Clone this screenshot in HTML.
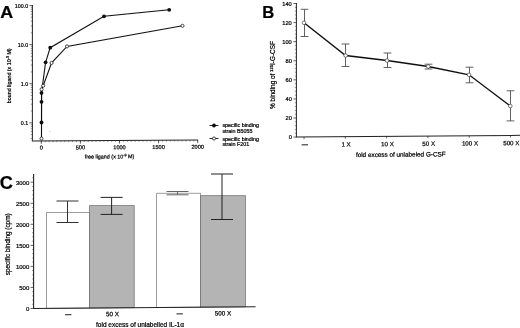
<!DOCTYPE html><html><head><meta charset="utf-8"><style>html,body{margin:0;padding:0;background:#fff;}svg{display:block;font-family:"Liberation Sans",sans-serif;}text{fill:#000;stroke:#000;stroke-width:0.22px;}</style></head><body>
<svg width="520" height="328" viewBox="0 0 520 328">
<defs><filter id="bl" x="-5%" y="-5%" width="110%" height="110%"><feGaussianBlur stdDeviation="0.35"/></filter></defs>
<rect width="520" height="328" fill="#fff"/>
<g filter="url(#bl)">
<text transform="translate(0.3,18.1) scale(1.05,1)" font-size="17" font-weight="bold" fill="#000" stroke="none">A</text>
<text transform="translate(262.3,18.1) scale(0.98,1)" font-size="17" font-weight="bold" fill="#000" stroke="none">B</text>
<text transform="translate(-0.3,189.4) scale(1.04,1)" font-size="17.5" font-weight="bold" fill="#000" stroke="none">C</text>
<line x1="32.4" y1="5" x2="32.4" y2="140.9" stroke="#222" stroke-width="1.0"/>
<line x1="29.4" y1="5.5" x2="32.4" y2="5.5" stroke="#222" stroke-width="0.7"/>
<text x="28.099999999999998" y="7.7" font-size="5.3" text-anchor="end" >100.0</text>
<line x1="30.799999999999997" y1="32.82972716953833" x2="32.4" y2="32.82972716953833" stroke="#222" stroke-width="0.5"/>
<line x1="30.799999999999997" y1="25.944558940461203" x2="32.4" y2="25.944558940461203" stroke="#222" stroke-width="0.5"/>
<line x1="30.799999999999997" y1="21.059454339076673" x2="32.4" y2="21.059454339076673" stroke="#222" stroke-width="0.5"/>
<line x1="30.799999999999997" y1="17.270272830461664" x2="32.4" y2="17.270272830461664" stroke="#222" stroke-width="0.5"/>
<line x1="30.799999999999997" y1="14.174286109999533" x2="32.4" y2="14.174286109999533" stroke="#222" stroke-width="0.5"/>
<line x1="30.799999999999997" y1="11.556666635442559" x2="32.4" y2="11.556666635442559" stroke="#222" stroke-width="0.5"/>
<line x1="30.799999999999997" y1="9.289181508615007" x2="32.4" y2="9.289181508615007" stroke="#222" stroke-width="0.5"/>
<line x1="30.799999999999997" y1="7.289117880922397" x2="32.4" y2="7.289117880922397" stroke="#222" stroke-width="0.5"/>
<line x1="29.4" y1="44.6" x2="32.4" y2="44.6" stroke="#222" stroke-width="0.7"/>
<text x="28.099999999999998" y="46.800000000000004" font-size="5.3" text-anchor="end" >10.0</text>
<line x1="30.799999999999997" y1="71.92972716953834" x2="32.4" y2="71.92972716953834" stroke="#222" stroke-width="0.5"/>
<line x1="30.799999999999997" y1="65.0445589404612" x2="32.4" y2="65.0445589404612" stroke="#222" stroke-width="0.5"/>
<line x1="30.799999999999997" y1="60.159454339076675" x2="32.4" y2="60.159454339076675" stroke="#222" stroke-width="0.5"/>
<line x1="30.799999999999997" y1="56.370272830461666" x2="32.4" y2="56.370272830461666" stroke="#222" stroke-width="0.5"/>
<line x1="30.799999999999997" y1="53.27428610999954" x2="32.4" y2="53.27428610999954" stroke="#222" stroke-width="0.5"/>
<line x1="30.799999999999997" y1="50.65666663544256" x2="32.4" y2="50.65666663544256" stroke="#222" stroke-width="0.5"/>
<line x1="30.799999999999997" y1="48.38918150861501" x2="32.4" y2="48.38918150861501" stroke="#222" stroke-width="0.5"/>
<line x1="30.799999999999997" y1="46.3891178809224" x2="32.4" y2="46.3891178809224" stroke="#222" stroke-width="0.5"/>
<line x1="29.4" y1="83.7" x2="32.4" y2="83.7" stroke="#222" stroke-width="0.7"/>
<text x="28.099999999999998" y="85.9" font-size="5.3" text-anchor="end" >1.0</text>
<line x1="30.799999999999997" y1="111.02972716953833" x2="32.4" y2="111.02972716953833" stroke="#222" stroke-width="0.5"/>
<line x1="30.799999999999997" y1="104.14455894046121" x2="32.4" y2="104.14455894046121" stroke="#222" stroke-width="0.5"/>
<line x1="30.799999999999997" y1="99.25945433907667" x2="32.4" y2="99.25945433907667" stroke="#222" stroke-width="0.5"/>
<line x1="30.799999999999997" y1="95.47027283046167" x2="32.4" y2="95.47027283046167" stroke="#222" stroke-width="0.5"/>
<line x1="30.799999999999997" y1="92.37428610999953" x2="32.4" y2="92.37428610999953" stroke="#222" stroke-width="0.5"/>
<line x1="30.799999999999997" y1="89.75666663544256" x2="32.4" y2="89.75666663544256" stroke="#222" stroke-width="0.5"/>
<line x1="30.799999999999997" y1="87.489181508615" x2="32.4" y2="87.489181508615" stroke="#222" stroke-width="0.5"/>
<line x1="30.799999999999997" y1="85.48911788092241" x2="32.4" y2="85.48911788092241" stroke="#222" stroke-width="0.5"/>
<line x1="29.4" y1="122.80000000000001" x2="32.4" y2="122.80000000000001" stroke="#222" stroke-width="0.7"/>
<text x="28.099999999999998" y="125.00000000000001" font-size="5.3" text-anchor="end" >0.1</text>
<line x1="30.799999999999997" y1="138.35945433907668" x2="32.4" y2="138.35945433907668" stroke="#222" stroke-width="0.5"/>
<line x1="30.799999999999997" y1="134.57027283046168" x2="32.4" y2="134.57027283046168" stroke="#222" stroke-width="0.5"/>
<line x1="30.799999999999997" y1="131.47428610999955" x2="32.4" y2="131.47428610999955" stroke="#222" stroke-width="0.5"/>
<line x1="30.799999999999997" y1="128.85666663544256" x2="32.4" y2="128.85666663544256" stroke="#222" stroke-width="0.5"/>
<line x1="30.799999999999997" y1="126.58918150861501" x2="32.4" y2="126.58918150861501" stroke="#222" stroke-width="0.5"/>
<line x1="30.799999999999997" y1="124.58911788092242" x2="32.4" y2="124.58911788092242" stroke="#222" stroke-width="0.5"/>
<g transform="translate(32.4,140.9) skewY(-0.27) translate(-32.4,-140.9)">
<line x1="31.9" y1="140.9" x2="198" y2="140.9" stroke="#222" stroke-width="1.0"/>
<line x1="41.3" y1="140.9" x2="41.3" y2="143.9" stroke="#222" stroke-width="0.7"/>
<text x="41.3" y="149.6" font-size="5.6" text-anchor="middle" >0</text>
<line x1="80.4" y1="140.9" x2="80.4" y2="143.9" stroke="#222" stroke-width="0.7"/>
<text x="80.4" y="149.6" font-size="5.6" text-anchor="middle" >500</text>
<line x1="119.5" y1="140.9" x2="119.5" y2="143.9" stroke="#222" stroke-width="0.7"/>
<text x="119.5" y="149.6" font-size="5.6" text-anchor="middle" >1000</text>
<line x1="158.60000000000002" y1="140.9" x2="158.60000000000002" y2="143.9" stroke="#222" stroke-width="0.7"/>
<text x="158.60000000000002" y="149.6" font-size="5.6" text-anchor="middle" >1500</text>
<line x1="197.7" y1="140.9" x2="197.7" y2="143.9" stroke="#222" stroke-width="0.7"/>
<text x="197.7" y="149.6" font-size="5.6" text-anchor="middle" >2000</text>
<line x1="41.3" y1="140.9" x2="41.3" y2="142.3" stroke="#222" stroke-width="0.45"/>
<line x1="45.209999999999994" y1="140.9" x2="45.209999999999994" y2="142.3" stroke="#222" stroke-width="0.45"/>
<line x1="49.12" y1="140.9" x2="49.12" y2="142.3" stroke="#222" stroke-width="0.45"/>
<line x1="53.03" y1="140.9" x2="53.03" y2="142.3" stroke="#222" stroke-width="0.45"/>
<line x1="56.94" y1="140.9" x2="56.94" y2="142.3" stroke="#222" stroke-width="0.45"/>
<line x1="60.849999999999994" y1="140.9" x2="60.849999999999994" y2="142.3" stroke="#222" stroke-width="0.45"/>
<line x1="64.75999999999999" y1="140.9" x2="64.75999999999999" y2="142.3" stroke="#222" stroke-width="0.45"/>
<line x1="68.67" y1="140.9" x2="68.67" y2="142.3" stroke="#222" stroke-width="0.45"/>
<line x1="72.58" y1="140.9" x2="72.58" y2="142.3" stroke="#222" stroke-width="0.45"/>
<line x1="76.49" y1="140.9" x2="76.49" y2="142.3" stroke="#222" stroke-width="0.45"/>
<line x1="80.4" y1="140.9" x2="80.4" y2="142.3" stroke="#222" stroke-width="0.45"/>
<line x1="84.31" y1="140.9" x2="84.31" y2="142.3" stroke="#222" stroke-width="0.45"/>
<line x1="88.22" y1="140.9" x2="88.22" y2="142.3" stroke="#222" stroke-width="0.45"/>
<line x1="92.13" y1="140.9" x2="92.13" y2="142.3" stroke="#222" stroke-width="0.45"/>
<line x1="96.03999999999999" y1="140.9" x2="96.03999999999999" y2="142.3" stroke="#222" stroke-width="0.45"/>
<line x1="99.95" y1="140.9" x2="99.95" y2="142.3" stroke="#222" stroke-width="0.45"/>
<line x1="103.86" y1="140.9" x2="103.86" y2="142.3" stroke="#222" stroke-width="0.45"/>
<line x1="107.77" y1="140.9" x2="107.77" y2="142.3" stroke="#222" stroke-width="0.45"/>
<line x1="111.67999999999999" y1="140.9" x2="111.67999999999999" y2="142.3" stroke="#222" stroke-width="0.45"/>
<line x1="115.59" y1="140.9" x2="115.59" y2="142.3" stroke="#222" stroke-width="0.45"/>
<line x1="119.5" y1="140.9" x2="119.5" y2="142.3" stroke="#222" stroke-width="0.45"/>
<line x1="123.41" y1="140.9" x2="123.41" y2="142.3" stroke="#222" stroke-width="0.45"/>
<line x1="127.32000000000001" y1="140.9" x2="127.32000000000001" y2="142.3" stroke="#222" stroke-width="0.45"/>
<line x1="131.23000000000002" y1="140.9" x2="131.23000000000002" y2="142.3" stroke="#222" stroke-width="0.45"/>
<line x1="135.14" y1="140.9" x2="135.14" y2="142.3" stroke="#222" stroke-width="0.45"/>
<line x1="139.05" y1="140.9" x2="139.05" y2="142.3" stroke="#222" stroke-width="0.45"/>
<line x1="142.95999999999998" y1="140.9" x2="142.95999999999998" y2="142.3" stroke="#222" stroke-width="0.45"/>
<line x1="146.87" y1="140.9" x2="146.87" y2="142.3" stroke="#222" stroke-width="0.45"/>
<line x1="150.78" y1="140.9" x2="150.78" y2="142.3" stroke="#222" stroke-width="0.45"/>
<line x1="154.69" y1="140.9" x2="154.69" y2="142.3" stroke="#222" stroke-width="0.45"/>
<line x1="158.60000000000002" y1="140.9" x2="158.60000000000002" y2="142.3" stroke="#222" stroke-width="0.45"/>
<line x1="162.51" y1="140.9" x2="162.51" y2="142.3" stroke="#222" stroke-width="0.45"/>
<line x1="166.42000000000002" y1="140.9" x2="166.42000000000002" y2="142.3" stroke="#222" stroke-width="0.45"/>
<line x1="170.32999999999998" y1="140.9" x2="170.32999999999998" y2="142.3" stroke="#222" stroke-width="0.45"/>
<line x1="174.24" y1="140.9" x2="174.24" y2="142.3" stroke="#222" stroke-width="0.45"/>
<line x1="178.14999999999998" y1="140.9" x2="178.14999999999998" y2="142.3" stroke="#222" stroke-width="0.45"/>
<line x1="182.06" y1="140.9" x2="182.06" y2="142.3" stroke="#222" stroke-width="0.45"/>
<line x1="185.97000000000003" y1="140.9" x2="185.97000000000003" y2="142.3" stroke="#222" stroke-width="0.45"/>
<line x1="189.88" y1="140.9" x2="189.88" y2="142.3" stroke="#222" stroke-width="0.45"/>
<line x1="193.79000000000002" y1="140.9" x2="193.79000000000002" y2="142.3" stroke="#222" stroke-width="0.45"/>
<line x1="197.7" y1="140.9" x2="197.7" y2="142.3" stroke="#222" stroke-width="0.45"/>
<text x="109.5" y="158.8" font-size="5.4" text-anchor="middle" >free ligand (x 10<tspan dy="-2" font-size="3.6">-9</tspan><tspan dy="2"> M)</tspan></text>
</g>
<text transform="translate(11.2,75.8) rotate(-90)" font-size="5.35" text-anchor="middle">bound ligand (x 10<tspan dy="-2" font-size="3.6">-9</tspan><tspan dy="2"> M)</tspan></text>
<polyline fill="none" stroke="#111" stroke-width="1.1" points="41.5,138.6 41.6,89.4 43.2,85.7 51.6,62.9 67,46.4 182.5,25.8"/>
<polyline fill="none" stroke="#111" stroke-width="1.1" points="41.5,122.5 41.5,101.8 41.5,92.9 45.6,62.3 50.2,47.7 104,16.3 169.2,9.8"/>
<circle cx="41.5" cy="122.5" r="1.9" fill="#111"/>
<circle cx="41.5" cy="101.8" r="1.9" fill="#111"/>
<circle cx="41.5" cy="92.9" r="1.9" fill="#111"/>
<circle cx="45.6" cy="62.3" r="1.9" fill="#111"/>
<circle cx="50.2" cy="47.7" r="1.9" fill="#111"/>
<circle cx="104" cy="16.3" r="1.9" fill="#111"/>
<circle cx="169.2" cy="9.8" r="1.9" fill="#111"/>
<circle cx="41.5" cy="138.6" r="1.55" fill="#fff" stroke="#111" stroke-width="0.75"/>
<circle cx="41.6" cy="89.4" r="1.55" fill="#fff" stroke="#111" stroke-width="0.75"/>
<circle cx="43.2" cy="85.7" r="1.55" fill="#fff" stroke="#111" stroke-width="0.75"/>
<circle cx="51.6" cy="62.9" r="1.55" fill="#fff" stroke="#111" stroke-width="0.75"/>
<circle cx="67" cy="46.4" r="1.55" fill="#fff" stroke="#111" stroke-width="0.75"/>
<circle cx="182.5" cy="25.8" r="1.55" fill="#fff" stroke="#111" stroke-width="0.75"/>
<circle cx="50" cy="131.6" r="0.5" fill="#bbb"/>
<line x1="209.5" y1="125.5" x2="218.5" y2="125.5" stroke="#111" stroke-width="0.9"/>
<circle cx="214" cy="125.5" r="1.9" fill="#111"/>
<line x1="209.5" y1="138.5" x2="218.5" y2="138.5" stroke="#111" stroke-width="0.9"/>
<circle cx="214" cy="138.5" r="1.55" fill="#fff" stroke="#111" stroke-width="0.75"/>
<text x="222.4" y="127" font-size="5.35" text-anchor="start" >specific binding</text>
<text x="222.4" y="132.8" font-size="5.35" text-anchor="start" >strain B5055</text>
<text x="222.4" y="140.6" font-size="5.35" text-anchor="start" >specific binding</text>
<text x="222.4" y="146.4" font-size="5.35" text-anchor="start" >strain F201</text>
<line x1="296.4" y1="3" x2="296.4" y2="137.1" stroke="#222" stroke-width="1.0"/>
<line x1="293.4" y1="3.4979999999999905" x2="296.4" y2="3.4979999999999905" stroke="#222" stroke-width="0.7"/>
<text x="291.79999999999995" y="5.697999999999991" font-size="5.7" text-anchor="end" >140</text>
<line x1="294.9" y1="7.314999999999991" x2="296.4" y2="7.314999999999991" stroke="#222" stroke-width="0.45"/>
<line x1="294.9" y1="11.13199999999999" x2="296.4" y2="11.13199999999999" stroke="#222" stroke-width="0.45"/>
<line x1="294.9" y1="14.948999999999991" x2="296.4" y2="14.948999999999991" stroke="#222" stroke-width="0.45"/>
<line x1="294.9" y1="18.76599999999999" x2="296.4" y2="18.76599999999999" stroke="#222" stroke-width="0.45"/>
<line x1="293.4" y1="22.58399999999999" x2="296.4" y2="22.58399999999999" stroke="#222" stroke-width="0.7"/>
<text x="291.79999999999995" y="24.78399999999999" font-size="5.7" text-anchor="end" >120</text>
<line x1="294.9" y1="26.40099999999999" x2="296.4" y2="26.40099999999999" stroke="#222" stroke-width="0.45"/>
<line x1="294.9" y1="30.21799999999999" x2="296.4" y2="30.21799999999999" stroke="#222" stroke-width="0.45"/>
<line x1="294.9" y1="34.03499999999999" x2="296.4" y2="34.03499999999999" stroke="#222" stroke-width="0.45"/>
<line x1="294.9" y1="37.85199999999999" x2="296.4" y2="37.85199999999999" stroke="#222" stroke-width="0.45"/>
<line x1="293.4" y1="41.66999999999999" x2="296.4" y2="41.66999999999999" stroke="#222" stroke-width="0.7"/>
<text x="291.79999999999995" y="43.86999999999999" font-size="5.7" text-anchor="end" >100</text>
<line x1="294.9" y1="45.48699999999999" x2="296.4" y2="45.48699999999999" stroke="#222" stroke-width="0.45"/>
<line x1="294.9" y1="49.30399999999999" x2="296.4" y2="49.30399999999999" stroke="#222" stroke-width="0.45"/>
<line x1="294.9" y1="53.12099999999999" x2="296.4" y2="53.12099999999999" stroke="#222" stroke-width="0.45"/>
<line x1="294.9" y1="56.93799999999999" x2="296.4" y2="56.93799999999999" stroke="#222" stroke-width="0.45"/>
<line x1="293.4" y1="60.755999999999986" x2="296.4" y2="60.755999999999986" stroke="#222" stroke-width="0.7"/>
<text x="291.79999999999995" y="62.95599999999999" font-size="5.7" text-anchor="end" >80</text>
<line x1="294.9" y1="64.57299999999998" x2="296.4" y2="64.57299999999998" stroke="#222" stroke-width="0.45"/>
<line x1="294.9" y1="68.38999999999999" x2="296.4" y2="68.38999999999999" stroke="#222" stroke-width="0.45"/>
<line x1="294.9" y1="72.207" x2="296.4" y2="72.207" stroke="#222" stroke-width="0.45"/>
<line x1="294.9" y1="76.02399999999999" x2="296.4" y2="76.02399999999999" stroke="#222" stroke-width="0.45"/>
<line x1="293.4" y1="79.84199999999998" x2="296.4" y2="79.84199999999998" stroke="#222" stroke-width="0.7"/>
<text x="291.79999999999995" y="82.04199999999999" font-size="5.7" text-anchor="end" >60</text>
<line x1="294.9" y1="83.65899999999999" x2="296.4" y2="83.65899999999999" stroke="#222" stroke-width="0.45"/>
<line x1="294.9" y1="87.47599999999998" x2="296.4" y2="87.47599999999998" stroke="#222" stroke-width="0.45"/>
<line x1="294.9" y1="91.29299999999998" x2="296.4" y2="91.29299999999998" stroke="#222" stroke-width="0.45"/>
<line x1="294.9" y1="95.10999999999999" x2="296.4" y2="95.10999999999999" stroke="#222" stroke-width="0.45"/>
<line x1="293.4" y1="98.928" x2="296.4" y2="98.928" stroke="#222" stroke-width="0.7"/>
<text x="291.79999999999995" y="101.128" font-size="5.7" text-anchor="end" >40</text>
<line x1="294.9" y1="102.745" x2="296.4" y2="102.745" stroke="#222" stroke-width="0.45"/>
<line x1="294.9" y1="106.562" x2="296.4" y2="106.562" stroke="#222" stroke-width="0.45"/>
<line x1="294.9" y1="110.37899999999999" x2="296.4" y2="110.37899999999999" stroke="#222" stroke-width="0.45"/>
<line x1="294.9" y1="114.196" x2="296.4" y2="114.196" stroke="#222" stroke-width="0.45"/>
<line x1="293.4" y1="118.014" x2="296.4" y2="118.014" stroke="#222" stroke-width="0.7"/>
<text x="291.79999999999995" y="120.214" font-size="5.7" text-anchor="end" >20</text>
<line x1="294.9" y1="121.83099999999999" x2="296.4" y2="121.83099999999999" stroke="#222" stroke-width="0.45"/>
<line x1="294.9" y1="125.648" x2="296.4" y2="125.648" stroke="#222" stroke-width="0.45"/>
<line x1="294.9" y1="129.465" x2="296.4" y2="129.465" stroke="#222" stroke-width="0.45"/>
<line x1="294.9" y1="133.28199999999998" x2="296.4" y2="133.28199999999998" stroke="#222" stroke-width="0.45"/>
<line x1="293.4" y1="137.1" x2="296.4" y2="137.1" stroke="#222" stroke-width="0.7"/>
<text x="291.79999999999995" y="139.29999999999998" font-size="5.7" text-anchor="end" >0</text>
<g transform="translate(296.4,137.1) skewY(-0.45) translate(-296.4,-137.1)">
<line x1="295.9" y1="137.1" x2="521" y2="137.1" stroke="#222" stroke-width="1.0"/>
<line x1="304.0" y1="137.1" x2="304.0" y2="139.1" stroke="#222" stroke-width="0.7"/>
<line x1="301.6" y1="144.9" x2="308.0" y2="144.9" stroke="#000" stroke-width="0.9"/>
<line x1="345.3" y1="137.1" x2="345.3" y2="139.1" stroke="#222" stroke-width="0.7"/>
<text x="346.1" y="146.9" font-size="6.2" text-anchor="middle" >1 X</text>
<line x1="386.6" y1="137.1" x2="386.6" y2="139.1" stroke="#222" stroke-width="0.7"/>
<text x="387.40000000000003" y="146.9" font-size="6.2" text-anchor="middle" >10 X</text>
<line x1="427.9" y1="137.1" x2="427.9" y2="139.1" stroke="#222" stroke-width="0.7"/>
<text x="428.7" y="146.9" font-size="6.2" text-anchor="middle" >50 X</text>
<line x1="469.2" y1="137.1" x2="469.2" y2="139.1" stroke="#222" stroke-width="0.7"/>
<text x="470.0" y="146.9" font-size="6.2" text-anchor="middle" >100 X</text>
<line x1="510.5" y1="137.1" x2="510.5" y2="139.1" stroke="#222" stroke-width="0.7"/>
<text x="511.3" y="146.9" font-size="6.2" text-anchor="middle" >500 X</text>
<text x="400.8" y="157.5" font-size="6.37" text-anchor="middle" >fold excess of unlabeled G-CSF</text>
</g>
<text transform="translate(274.9,75.0) rotate(-90)" font-size="6.4" text-anchor="middle">% binding of <tspan dy="-2.3" font-size="4.2">125</tspan><tspan dy="2.3">I-G-CSF</tspan></text>
<line x1="304.5" y1="9.3" x2="304.5" y2="36.5" stroke="#444" stroke-width="0.85"/>
<line x1="300.6" y1="9.3" x2="308.4" y2="9.3" stroke="#444" stroke-width="0.85"/>
<line x1="300.6" y1="36.5" x2="308.4" y2="36.5" stroke="#444" stroke-width="0.85"/>
<line x1="345.5" y1="44" x2="345.5" y2="66.5" stroke="#444" stroke-width="0.85"/>
<line x1="341.6" y1="44" x2="349.4" y2="44" stroke="#444" stroke-width="0.85"/>
<line x1="341.6" y1="66.5" x2="349.4" y2="66.5" stroke="#444" stroke-width="0.85"/>
<line x1="387.5" y1="53" x2="387.5" y2="67.5" stroke="#444" stroke-width="0.85"/>
<line x1="383.6" y1="53" x2="391.4" y2="53" stroke="#444" stroke-width="0.85"/>
<line x1="383.6" y1="67.5" x2="391.4" y2="67.5" stroke="#444" stroke-width="0.85"/>
<line x1="428.5" y1="64.2" x2="428.5" y2="69.0" stroke="#444" stroke-width="0.85"/>
<line x1="424.6" y1="64.2" x2="432.4" y2="64.2" stroke="#444" stroke-width="0.85"/>
<line x1="424.6" y1="69.0" x2="432.4" y2="69.0" stroke="#444" stroke-width="0.85"/>
<line x1="469.5" y1="67.2" x2="469.5" y2="82.8" stroke="#444" stroke-width="0.85"/>
<line x1="465.6" y1="67.2" x2="473.4" y2="67.2" stroke="#444" stroke-width="0.85"/>
<line x1="465.6" y1="82.8" x2="473.4" y2="82.8" stroke="#444" stroke-width="0.85"/>
<line x1="510.5" y1="90.8" x2="510.5" y2="120.9" stroke="#444" stroke-width="0.85"/>
<line x1="506.6" y1="90.8" x2="514.4" y2="90.8" stroke="#444" stroke-width="0.85"/>
<line x1="506.6" y1="120.9" x2="514.4" y2="120.9" stroke="#444" stroke-width="0.85"/>
<polyline fill="none" stroke="#111" stroke-width="1.4" points="304,22.8 345.6,55.5 387,60.5 428.2,66.5 469,74.8 510.3,106"/>
<circle cx="304" cy="22.8" r="1.8" fill="#fff" stroke="#444" stroke-width="0.7"/>
<circle cx="345.6" cy="55.5" r="1.8" fill="#fff" stroke="#444" stroke-width="0.7"/>
<circle cx="387" cy="60.5" r="1.8" fill="#fff" stroke="#444" stroke-width="0.7"/>
<circle cx="428.2" cy="66.5" r="1.8" fill="#fff" stroke="#444" stroke-width="0.7"/>
<circle cx="469" cy="74.8" r="1.8" fill="#fff" stroke="#444" stroke-width="0.7"/>
<circle cx="510.3" cy="106" r="1.8" fill="#fff" stroke="#444" stroke-width="0.7"/>
<line x1="33.6" y1="174" x2="33.6" y2="308.5" stroke="#222" stroke-width="1.1"/>
<line x1="30.6" y1="182.2" x2="33.6" y2="182.2" stroke="#222" stroke-width="0.7"/>
<text x="29.3" y="184.6" font-size="6.0" text-anchor="end" >3000</text>
<line x1="32.1" y1="186.39999999999998" x2="33.6" y2="186.39999999999998" stroke="#222" stroke-width="0.45"/>
<line x1="32.1" y1="190.6" x2="33.6" y2="190.6" stroke="#222" stroke-width="0.45"/>
<line x1="32.1" y1="194.79999999999998" x2="33.6" y2="194.79999999999998" stroke="#222" stroke-width="0.45"/>
<line x1="32.1" y1="199.0" x2="33.6" y2="199.0" stroke="#222" stroke-width="0.45"/>
<line x1="30.6" y1="203.25" x2="33.6" y2="203.25" stroke="#222" stroke-width="0.7"/>
<text x="29.3" y="205.65" font-size="6.0" text-anchor="end" >2500</text>
<line x1="32.1" y1="207.45" x2="33.6" y2="207.45" stroke="#222" stroke-width="0.45"/>
<line x1="32.1" y1="211.65" x2="33.6" y2="211.65" stroke="#222" stroke-width="0.45"/>
<line x1="32.1" y1="215.85" x2="33.6" y2="215.85" stroke="#222" stroke-width="0.45"/>
<line x1="32.1" y1="220.05" x2="33.6" y2="220.05" stroke="#222" stroke-width="0.45"/>
<line x1="30.6" y1="224.29999999999998" x2="33.6" y2="224.29999999999998" stroke="#222" stroke-width="0.7"/>
<text x="29.3" y="226.7" font-size="6.0" text-anchor="end" >2000</text>
<line x1="32.1" y1="228.49999999999997" x2="33.6" y2="228.49999999999997" stroke="#222" stroke-width="0.45"/>
<line x1="32.1" y1="232.7" x2="33.6" y2="232.7" stroke="#222" stroke-width="0.45"/>
<line x1="32.1" y1="236.89999999999998" x2="33.6" y2="236.89999999999998" stroke="#222" stroke-width="0.45"/>
<line x1="32.1" y1="241.1" x2="33.6" y2="241.1" stroke="#222" stroke-width="0.45"/>
<line x1="30.6" y1="245.35" x2="33.6" y2="245.35" stroke="#222" stroke-width="0.7"/>
<text x="29.3" y="247.75" font-size="6.0" text-anchor="end" >1500</text>
<line x1="32.1" y1="249.54999999999998" x2="33.6" y2="249.54999999999998" stroke="#222" stroke-width="0.45"/>
<line x1="32.1" y1="253.75" x2="33.6" y2="253.75" stroke="#222" stroke-width="0.45"/>
<line x1="32.1" y1="257.95" x2="33.6" y2="257.95" stroke="#222" stroke-width="0.45"/>
<line x1="32.1" y1="262.15" x2="33.6" y2="262.15" stroke="#222" stroke-width="0.45"/>
<line x1="30.6" y1="266.4" x2="33.6" y2="266.4" stroke="#222" stroke-width="0.7"/>
<text x="29.3" y="268.79999999999995" font-size="6.0" text-anchor="end" >1000</text>
<line x1="32.1" y1="270.59999999999997" x2="33.6" y2="270.59999999999997" stroke="#222" stroke-width="0.45"/>
<line x1="32.1" y1="274.79999999999995" x2="33.6" y2="274.79999999999995" stroke="#222" stroke-width="0.45"/>
<line x1="32.1" y1="279.0" x2="33.6" y2="279.0" stroke="#222" stroke-width="0.45"/>
<line x1="32.1" y1="283.2" x2="33.6" y2="283.2" stroke="#222" stroke-width="0.45"/>
<line x1="30.6" y1="287.45" x2="33.6" y2="287.45" stroke="#222" stroke-width="0.7"/>
<text x="29.3" y="289.84999999999997" font-size="6.0" text-anchor="end" >500</text>
<line x1="32.1" y1="291.65" x2="33.6" y2="291.65" stroke="#222" stroke-width="0.45"/>
<line x1="32.1" y1="295.84999999999997" x2="33.6" y2="295.84999999999997" stroke="#222" stroke-width="0.45"/>
<line x1="32.1" y1="300.05" x2="33.6" y2="300.05" stroke="#222" stroke-width="0.45"/>
<line x1="32.1" y1="304.25" x2="33.6" y2="304.25" stroke="#222" stroke-width="0.45"/>
<line x1="30.6" y1="308.5" x2="33.6" y2="308.5" stroke="#222" stroke-width="0.7"/>
<text x="29.3" y="310.9" font-size="6.0" text-anchor="end" >0</text>
<line x1="32.1" y1="177.8" x2="33.6" y2="177.8" stroke="#222" stroke-width="0.45"/>
<polygon points="46.5,212.5 89.5,212.5 89.5,308.07 46.5,308.40" fill="#fff" stroke="#5a5a5a" stroke-width="0.6"/>
<polygon points="89.5,205.5 134.3,205.5 134.3,307.73 89.5,308.07" fill="#b4b4b4" stroke="#5a5a5a" stroke-width="0.6"/>
<polygon points="156.5,193.3 200.5,193.3 200.5,307.22 156.5,307.56" fill="#fff" stroke="#5a5a5a" stroke-width="0.6"/>
<polygon points="200.5,195.6 245.5,195.6 245.5,306.87 200.5,307.22" fill="#b4b4b4" stroke="#5a5a5a" stroke-width="0.6"/>
<line x1="67.5" y1="201" x2="67.5" y2="222.5" stroke="#333" stroke-width="1.0"/>
<line x1="56.5" y1="201" x2="78.5" y2="201" stroke="#333" stroke-width="1.0"/>
<line x1="56.5" y1="222.5" x2="78.5" y2="222.5" stroke="#333" stroke-width="1.0"/>
<line x1="111.6" y1="197.4" x2="111.6" y2="214.4" stroke="#222" stroke-width="1.0"/>
<line x1="100.6" y1="197.4" x2="122.6" y2="197.4" stroke="#222" stroke-width="1.0"/>
<line x1="100.6" y1="214.4" x2="122.6" y2="214.4" stroke="#222" stroke-width="1.0"/>
<line x1="177.5" y1="191.5" x2="177.5" y2="194.8" stroke="#666" stroke-width="1.0"/>
<line x1="166.5" y1="191.5" x2="188.5" y2="191.5" stroke="#666" stroke-width="1.0"/>
<line x1="166.5" y1="194.8" x2="188.5" y2="194.8" stroke="#666" stroke-width="1.0"/>
<line x1="222" y1="174" x2="222" y2="219.5" stroke="#222" stroke-width="1.0"/>
<line x1="211" y1="174" x2="233" y2="174" stroke="#222" stroke-width="1.0"/>
<line x1="211" y1="219.5" x2="233" y2="219.5" stroke="#222" stroke-width="1.0"/>
<g transform="translate(33.6,308.5) skewY(-0.44) translate(-33.6,-308.5)">
<line x1="33.1" y1="308.5" x2="255.5" y2="308.5" stroke="#222" stroke-width="1.1"/>
<line x1="65.0" y1="315.0" x2="71.4" y2="315.0" stroke="#000" stroke-width="0.9"/>
<text x="112.5" y="316.9" font-size="6.3" text-anchor="middle" >50 X</text>
<line x1="176.5" y1="315.0" x2="182.89999999999998" y2="315.0" stroke="#000" stroke-width="0.9"/>
<text x="223" y="316.9" font-size="6.3" text-anchor="middle" >500 X</text>
</g>
<text x="140" y="326.8" font-size="6.5" text-anchor="middle" >fold excess of unlabelled IL-1α</text>
<text transform="translate(10,244.3) rotate(-90)" font-size="6.4" text-anchor="middle">specific binding (cpm)</text>
</g></svg></body></html>
